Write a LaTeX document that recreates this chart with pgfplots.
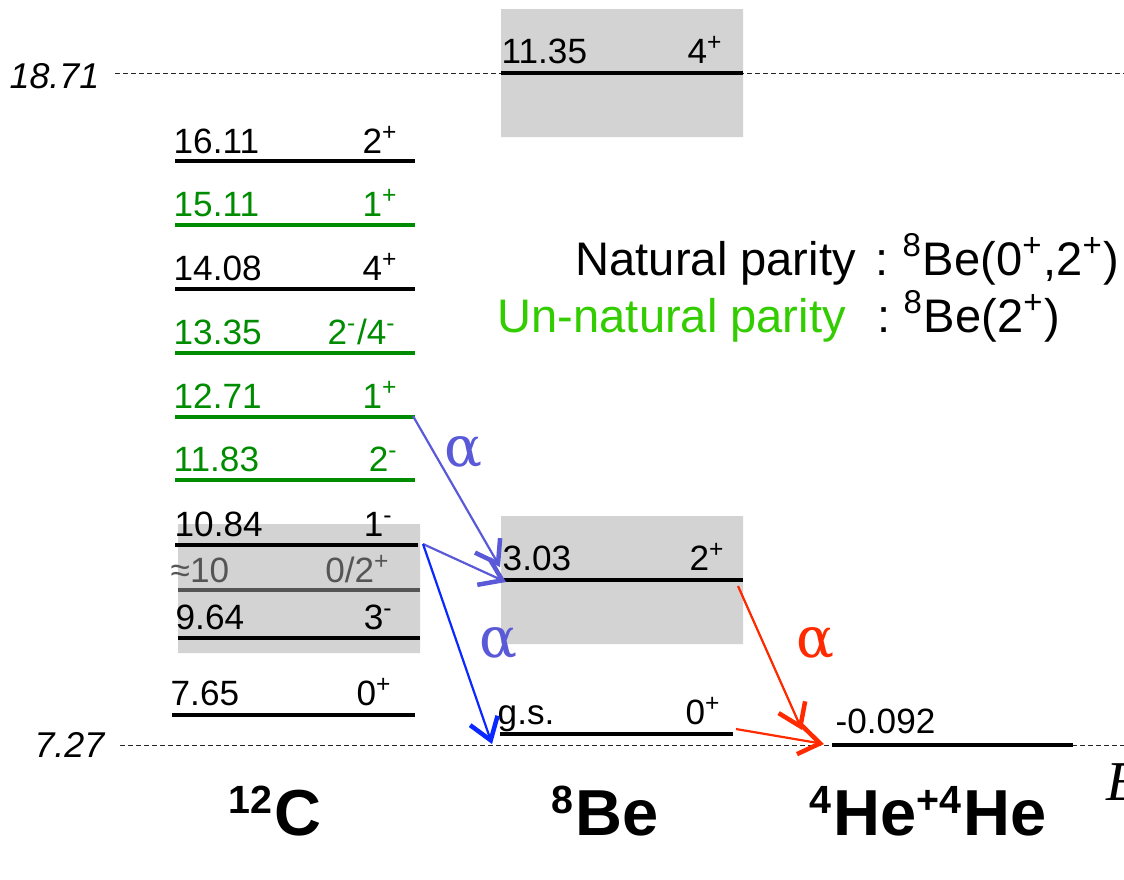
\documentclass[border=0pt]{standalone}
\usepackage{fontspec}
\setmainfont{Liberation Sans}
\newfontfamily\serif{Liberation Serif}
\newfontfamily\aserif{DejaVu Serif}
\usepackage{pgfplots}
\pgfplotsset{compat=1.18}
\usetikzlibrary{arrows.meta}
\definecolor{lvgreen}{RGB}{0,140,0}
\definecolor{lggreen}{RGB}{51,204,0}
\definecolor{boxgray}{RGB}{211,211,211}
\definecolor{dgray}{RGB}{85,85,85}
\definecolor{apurple}{RGB}{90,90,216}
\definecolor{ablue}{RGB}{10,40,255}
\definecolor{ared}{RGB}{255,42,0}
\tikzset{
  lvl/.style={line width=0.35mm, no marks},
  lab/.style={inner sep=0pt, font=\fontsize{10}{12}\selectfont},
  arr/.style={line width=0.22mm, no marks, -{Straight Barb[length=2.1mm, width=2.9mm, line width=0.45mm]}},
  dsh/.style={line width=0.1mm, no marks, dash pattern=on 0.45mm off 0.35mm, black!85},
  alph/.style={inner sep=0pt, font=\aserif\fontsize{16}{20}\selectfont},
  big/.style={inner sep=0pt, font=\fontsize{18.5}{22}\selectfont\bfseries},
  leg/.style={inner sep=0pt, font=\fontsize{13.4}{16}\selectfont}
}
\begin{document}
\begin{tikzpicture}
\begin{axis}[at={(0,0)}, anchor=south west, scale only axis,
  width=112.4mm, height=87.9mm,
  xmin=0, xmax=1124, ymin=0, ymax=879, y dir=reverse,
  axis lines=none, clip=false]
% gray boxes
\addplot[fill=boxgray, draw=none, no marks] coordinates {(178,524) (420,524) (420,653) (178,653) (178,524)};
\addplot[fill=boxgray, draw=none, no marks] coordinates {(501,9) (743,9) (743,137) (501,137) (501,9)};
\addplot[fill=boxgray, draw=none, no marks] coordinates {(501,516) (743,516) (743,644) (501,644) (501,516)};
% reference dashed lines
\addplot[dsh] coordinates {(115,73) (1124,73)};
\addplot[dsh] coordinates {(120,745) (1124,745)};
\node[inner sep=0pt, anchor=base east, font=\fontsize{10.2}{12}\selectfont\itshape] at (100,88) {18.71};
\node[inner sep=0pt, anchor=base east, font=\fontsize{10.2}{12}\selectfont\itshape] at (105,757) {7.27};
% 12C levels
\addplot[lvl, black]    coordinates {(175,161) (415,161)};
\addplot[lvl, lvgreen]  coordinates {(175,225) (415,225)};
\addplot[lvl, black]    coordinates {(175,289) (415,289)};
\addplot[lvl, lvgreen]  coordinates {(175,353) (415,353)};
\addplot[lvl, lvgreen]  coordinates {(175,417) (415,417)};
\addplot[lvl, lvgreen]  coordinates {(175,480) (415,480)};
\addplot[lvl, black]    coordinates {(175,545) (418,545)};
\addplot[lvl, dgray]    coordinates {(178,590) (420,590)};
\addplot[lvl, black]    coordinates {(178,638) (420,638)};
\addplot[lvl, black]    coordinates {(172,715) (415,715)};
\node[lab, anchor=base west] at (173,153) {16.11};
\node[lab, anchor=base east] at (399,153) {2\textsuperscript{+}};
\node[lab, anchor=base west, lvgreen] at (173,216) {15.11};
\node[lab, anchor=base east, lvgreen] at (399,216) {1\textsuperscript{+}};
\node[lab, anchor=base west] at (173,280) {14.08};
\node[lab, anchor=base east] at (399,280) {4\textsuperscript{+}};
\node[lab, anchor=base west, lvgreen] at (173,344) {13.35};
\node[lab, anchor=base east, lvgreen] at (397,344) {2\textsuperscript{-}/4\textsuperscript{-}};
\node[lab, anchor=base west, lvgreen] at (173,408) {12.71};
\node[lab, anchor=base east, lvgreen] at (399,408) {1\textsuperscript{+}};
\node[lab, anchor=base west, lvgreen] at (173,471) {11.83};
\node[lab, anchor=base east, lvgreen] at (399,471) {2\textsuperscript{-}};
\node[lab, anchor=base west] at (174,536) {10.84};
\node[lab, anchor=base east] at (394,536) {1\textsuperscript{-}};
\node[lab, anchor=base west, dgray] at (170,582) {≈10};
\node[lab, anchor=base east, dgray] at (391,582) {0/2\textsuperscript{+}};
\node[lab, anchor=base west] at (175,629) {9.64};
\node[lab, anchor=base east] at (394,629) {3\textsuperscript{-}};
\node[lab, anchor=base west] at (170,705) {7.65};
\node[lab, anchor=base east] at (393,705) {0\textsuperscript{+}};
% 8Be levels
\addplot[lvl, black] coordinates {(501,73) (743,73)};
\addplot[lvl, black] coordinates {(503,580) (743,580)};
\addplot[lvl, black] coordinates {(500,734) (733,734)};
\node[lab, anchor=base west] at (501,63) {11.35};
\node[lab, anchor=base east] at (724,63) {4\textsuperscript{+}};
\node[lab, anchor=base west] at (502,570) {3.03};
\node[lab, anchor=base east] at (726,570) {2\textsuperscript{+}};
\node[lab, anchor=base west] at (497,724) {g.s.};
\node[lab, anchor=base east] at (722,724) {0\textsuperscript{+}};
% 4He+4He level
\addplot[lvl, black] coordinates {(832,745) (1073,745)};
\node[lab, anchor=base west] at (835,733) {-0.092};
% arrows
\addplot[arr, apurple] coordinates {(413,416) (500,567)};
\addplot[arr, apurple] coordinates {(423,544) (506,582)};
\addplot[arr, ablue]   coordinates {(423,544) (492,744)};
\addplot[arr, ared]    coordinates {(738,586) (802,730)};
\addplot[arr, ared]    coordinates {(736,729) (824,744)};
\node[alph, apurple] at (463,452) {α};
\node[alph, apurple] at (498,643) {α};
\node[alph, ared] at (815,643) {α};
% legend text
\node[leg, anchor=base west] at (575,275) {Natural parity};
\node[leg, anchor=base west] at (875,275) {\makebox[2.7mm][l]{\strut:}\textsuperscript{8}Be(0\textsuperscript{+},2\textsuperscript{+})};
\node[leg, anchor=base west, lggreen] at (497,332) {Un-natural parity};
\node[leg, anchor=base west] at (877,332) {\makebox[2.6mm][l]{\strut:}\textsuperscript{8}Be(2\textsuperscript{+})};
% bottom labels
\node[big, anchor=base] at (275,835) {\textsuperscript{\fontsize{11.2}{12}\selectfont 12}C};
\node[big, anchor=base] at (605,835) {\textsuperscript{\fontsize{11.2}{12}\selectfont 8}Be};
\node[big, anchor=base] at (928,835) {\textsuperscript{\fontsize{11.2}{12}\selectfont 4}He\textsuperscript{\fontsize{11.2}{12}\selectfont +4}He};
\node[inner sep=0pt, anchor=base west, font=\serif\fontsize{16}{18}\selectfont\itshape] at (1106,800) {E};
\end{axis}
\pgfresetboundingbox
\path (0,0) rectangle (112.4mm,87.9mm);
\end{tikzpicture}
\end{document}
